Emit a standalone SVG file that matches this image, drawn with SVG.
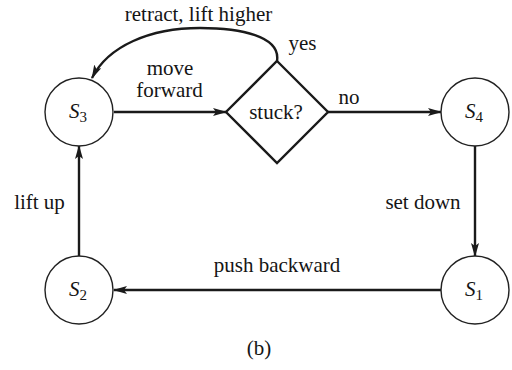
<svg xmlns="http://www.w3.org/2000/svg" width="512" height="370" viewBox="0 0 512 370">
<style>
text{font-family:'Liberation Serif','Times New Roman',Times,serif;font-size:21px;fill:#151515}
.st{fill:#fff;stroke:#222;stroke-width:1.4}
.e{fill:none;stroke:#1a1a1a;stroke-width:2.4}
.lbl{font-size:21px}
.s{font-style:italic}
.sub{font-size:15px}
</style>
<defs>
<marker id="ah" viewBox="0 0 14 8" refX="13" refY="4" markerWidth="14" markerHeight="8" markerUnits="userSpaceOnUse" orient="auto">
<path d="M0,0 L14,4 L0,8 L3,4 z" fill="#1a1a1a"/>
</marker>
</defs>
<rect width="512" height="370" fill="#fff"/>
<g id="connectors">
<line class="e" x1="114" y1="112" x2="226" y2="112" marker-end="url(#ah)"/>
<line class="e" x1="328" y1="112" x2="441" y2="112" marker-end="url(#ah)"/>
<line class="e" x1="475" y1="146" x2="475" y2="256" marker-end="url(#ah)"/>
<line class="e" x1="441" y1="290" x2="114" y2="290" marker-end="url(#ah)"/>
<line class="e" x1="79" y1="256" x2="79" y2="146" marker-end="url(#ah)"/>
<path class="e" d="M277,61 C281,36 240,28 200,28 C150,28 108,46 92,78" marker-end="url(#ah)"/>
</g>
<g id="S3"><circle class="st" cx="79" cy="112" r="34"/><text x="78" y="118" text-anchor="middle" class="lbl"><tspan class="s">S</tspan><tspan class="sub" dy="4">3</tspan></text></g>
<g id="S4"><circle class="st" cx="475" cy="112" r="34"/><text x="474" y="118" text-anchor="middle" class="lbl"><tspan class="s">S</tspan><tspan class="sub" dy="4">4</tspan></text></g>
<g id="S2"><circle class="st" cx="79" cy="290" r="34"/><text x="78" y="296" text-anchor="middle" class="lbl"><tspan class="s">S</tspan><tspan class="sub" dy="4">2</tspan></text></g>
<g id="S1"><circle class="st" cx="475" cy="290" r="34"/><text x="474" y="296" text-anchor="middle" class="lbl"><tspan class="s">S</tspan><tspan class="sub" dy="4">1</tspan></text></g>
<g id="stuck"><polygon points="277,61 328,112 277,163 226,112" fill="#fff" stroke="#1a1a1a" stroke-width="2.4"/><text x="276" y="119" text-anchor="middle">stuck?</text></g>
<g id="labels">
<text x="198.5" y="21" text-anchor="middle">retract, lift higher</text>
<text x="302.5" y="50" text-anchor="middle">yes</text>
<text x="170" y="75" text-anchor="middle">move</text>
<text x="169.5" y="97" text-anchor="middle">forward</text>
<text x="349" y="104" text-anchor="middle">no</text>
<text x="39.5" y="209" text-anchor="middle">lift up</text>
<text x="423" y="209" text-anchor="middle">set down</text>
<text x="277" y="272" text-anchor="middle">push backward</text>
<text x="259" y="355" text-anchor="middle" font-size="24">(b)</text>
</g>
</svg>
